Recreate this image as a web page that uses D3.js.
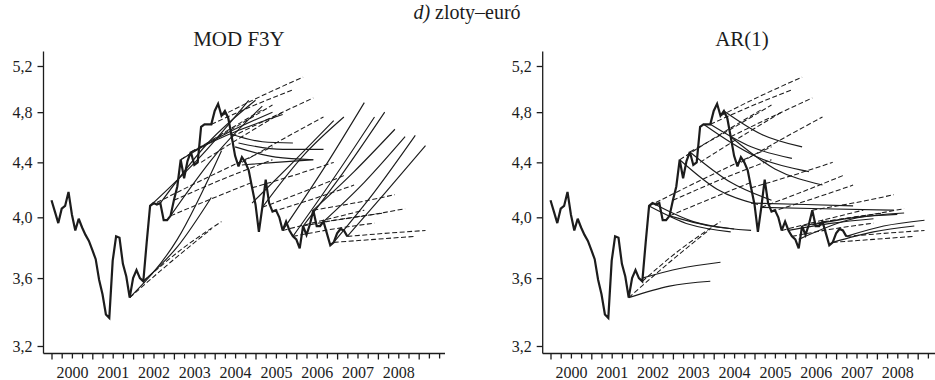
<!DOCTYPE html>
<html>
<head>
<meta charset="utf-8">
<script src="https://cdn.jsdelivr.net/npm/d3@7"></script>
<style>
  html, body { margin: 0; padding: 0; background: #fff; }
  svg { display: block; }
  svg text { font-family: 'Liberation Serif', 'Times New Roman', serif !important; }
</style>
</head>
<body>
<svg id="chart" width="935" height="380"></svg>
<script>
// Monthly zloty–euro rate, Jan 2000 onward (index = months since Jan 2000)
const rate = [
  4.12, 4.04, 3.96, 4.06, 4.08, 4.18, 4.02, 3.91, 3.99, 3.93, 3.88, 3.84,
  3.78, 3.72, 3.59, 3.50, 3.38, 3.36, 3.71, 3.87, 3.86, 3.69, 3.61, 3.48,
  3.60, 3.65, 3.60, 3.58, 3.83, 4.08, 4.10, 4.09, 4.10, 3.98, 3.98, 4.01,
  4.12, 4.22, 4.42, 4.28, 4.41, 4.48, 4.38, 4.40, 4.68, 4.70, 4.70, 4.70,
  4.81, 4.87, 4.77, 4.81, 4.75, 4.60, 4.45, 4.37, 4.44, 4.40, 4.34, 4.21,
  4.09, 3.90, 4.07, 4.27, 4.10, 4.04, 4.05, 4.00, 3.91, 3.97, 3.91, 3.87,
  3.85, 3.79, 3.94, 3.88, 3.95, 4.05, 3.94, 3.94, 3.97, 3.89, 3.81, 3.83,
  3.89, 3.92, 3.91, 3.87
];

// Forward-implied paths (dashed), [month index, rate]
const forwardPaths = [
  [[23, 3.48], [35, 3.70], [47, 3.92]],
  [[27, 3.58], [38, 3.78], [50, 3.97]],
  [[29, 4.08], [47, 4.30], [65, 4.52]],
  [[36, 4.12], [50, 4.27], [65, 4.42]],
  [[35, 4.01], [47, 4.13], [59, 4.25]],
  [[38, 4.42], [50, 4.62], [62, 4.82]],
  [[41, 4.48], [53, 4.66], [65, 4.86]],
  [[44, 4.40], [56, 4.60], [68, 4.80]],
  [[47, 4.70], [59, 4.85], [71, 4.99]],
  [[50, 4.77], [62, 4.94], [74, 5.10]],
  [[53, 4.60], [65, 4.76], [77, 4.92]],
  [[56, 4.40], [68, 4.58], [80, 4.76]],
  [[59, 4.21], [71, 4.30], [83, 4.40]],
  [[62, 4.07], [74, 4.18], [86, 4.30]],
  [[65, 4.04], [77, 4.13], [89, 4.23]],
  [[68, 3.91], [80, 3.98], [92, 4.05]],
  [[71, 3.87], [83, 3.92], [95, 3.96]],
  [[74, 3.94], [86, 3.99], [98, 4.03]],
  [[77, 4.05], [89, 4.10], [101, 4.16]],
  [[80, 3.97], [92, 4.01], [104, 4.06]],
  [[83, 3.83], [95, 3.85], [107, 3.87]],
  [[87, 3.87], [98, 3.89], [110, 3.91]]
];

// MOD F3Y forecast paths (solid, left panel)
const modPaths = [
  [[23, 3.48], [37, 3.85], [50, 4.49]],
  [[27, 3.58], [37, 3.80], [47, 4.14]],
  [[29, 4.08], [44, 4.45], [58, 4.90]],
  [[32, 4.10], [46, 4.55], [60, 4.90]],
  [[35, 4.01], [48, 4.45], [62, 4.85]],
  [[38, 4.42], [51, 4.62], [65, 4.80]],
  [[41, 4.48], [54, 4.64], [68, 4.78]],
  [[53, 4.62], [62, 4.56], [71, 4.55]],
  [[54, 4.52], [66, 4.44], [77, 4.42]],
  [[56, 4.38], [66, 4.40], [77, 4.42]],
  [[55, 4.55], [68, 4.50], [80, 4.50]],
  [[59, 4.10], [71, 4.40], [83, 4.73]],
  [[62, 4.07], [74, 4.45], [86, 4.76]],
  [[68, 3.91], [80, 4.35], [92, 4.88]],
  [[71, 3.87], [83, 4.28], [95, 4.76]],
  [[74, 3.94], [86, 4.33], [98, 4.80]],
  [[77, 4.05], [89, 4.33], [101, 4.66]],
  [[80, 3.97], [92, 4.25], [104, 4.60]],
  [[83, 3.83], [95, 4.18], [107, 4.61]],
  [[87, 3.87], [98, 4.17], [110, 4.53]]
];

// AR(1) forecast paths (solid, right panel)
const arPaths = [
  [[23, 3.48], [35, 3.55], [47, 3.58]],
  [[27, 3.60], [38, 3.66], [50, 3.70]],
  [[29, 4.08], [41, 3.95], [53, 3.90]],
  [[30, 4.10], [42, 3.97], [54, 3.92]],
  [[35, 4.01], [47, 3.94], [59, 3.91]],
  [[38, 4.42], [49, 4.20], [61, 4.09]],
  [[41, 4.48], [53, 4.25], [65, 4.12]],
  [[45, 4.70], [60, 4.45], [76, 4.33]],
  [[47, 4.70], [59, 4.52], [71, 4.43]],
  [[51, 4.81], [62, 4.62], [74, 4.52]],
  [[53, 4.60], [66, 4.35], [80, 4.23]],
  [[59, 4.10], [75, 4.09], [89, 4.08]],
  [[62, 4.07], [80, 4.06], [101, 4.05]],
  [[70, 3.91], [83, 3.96], [95, 3.99]],
  [[73, 3.85], [89, 3.99], [104, 4.03]],
  [[77, 3.95], [90, 4.00], [102, 4.02]],
  [[83, 3.83], [95, 3.90], [107, 3.94]],
  [[87, 3.87], [98, 3.94], [110, 3.98]]
];

const yTicks = [3.2, 3.6, 4.0, 4.4, 4.8, 5.2];
const yearLabels = [2000, 2001, 2002, 2003, 2004, 2005, 2006, 2007, 2008];
const panels = [
  { title: "MOD F3Y", titleX: 239, axisX: 43.5, firstTick: 51.5, right: 445, solid: modPaths },
  { title: "AR(1)", titleX: 742, axisX: 542.7, firstTick: 550.5, right: 935, solid: arPaths }
];

const svg = d3.select("#chart");
const ink = "#1c1c1c";
const serif = "'Liberation Serif', 'Times New Roman', serif";
const yearWidth = 40.8;

const title = svg.append("text")
  .attr("x", 467).attr("y", 19)
  .attr("text-anchor", "middle")
  .style("font-family", serif)
  .attr("font-size", 20).attr("fill", ink);
title.append("tspan").attr("font-style", "italic").text("d)");
title.append("tspan").text(" zloty–euró");

const y = d3.scaleLog().domain([3.2, 5.2]).range([346, 66]);

panels.forEach(p => {
  const g = svg.append("g");
  const x = d3.scaleLinear()
    .domain([2000, 2001])
    .range([p.firstTick, p.firstTick + yearWidth]);
  const tOf = m => 2000 + m / 12;
  const xMax = x.invert(p.right);

  g.append("text")
    .attr("x", p.titleX).attr("y", 46)
    .attr("text-anchor", "middle")
    .style("font-family", serif)
    .attr("font-size", 21).attr("fill", ink)
    .text(p.title);

  // y axis
  const yAxis = d3.axisLeft(y)
    .tickValues(yTicks)
    .tickSize(6)
    .tickPadding(5)
    .tickFormat(d => d3.format(".1f")(d).replace(".", ","));
  const ya = g.append("g").attr("transform", `translate(${p.axisX},0)`).call(yAxis);
  ya.select(".domain").attr("d", `M0,51.5V353.5`);

  // x axis: quarterly ticks, year labels centred mid-year
  const quarters = d3.range(2000, xMax, 0.25);
  const xAxis = d3.axisBottom(x)
    .tickValues(quarters)
    .tickSize(5)
    .tickFormat("");
  const xa = g.append("g").attr("transform", "translate(0,353.5)").call(xAxis);
  xa.select(".domain").attr("d", `M${p.axisX},0H${p.right}`);
  xa.selectAll(".tick line").attr("y2", d => Number.isInteger(d) ? 6 : 5);

  const xl = g.append("g").attr("transform", "translate(0,353.5)")
    .call(d3.axisBottom(x).tickValues(yearLabels.map(d => d + 0.5)).tickSize(0).tickPadding(13)
      .tickFormat(d => String(Math.floor(d))));
  xl.select(".domain").remove();

  [ya, xa, xl].forEach(a => {
    a.attr("font-family", null);
    a.selectAll("path, line").attr("stroke", ink).attr("stroke-width", 1.3);
    a.selectAll("text").attr("font-size", 16).attr("fill", ink)
      .style("font-family", serif);
  });

  const path = d3.line()
    .x(d => x(tOf(d[0])))
    .y(d => y(d[1]))
    .curve(d3.curveMonotoneX);

  g.append("g").selectAll("path").data(forwardPaths).join("path")
    .attr("d", path).attr("fill", "none")
    .attr("stroke", ink).attr("stroke-width", 1.05)
    .attr("stroke-dasharray", "5,2.5");

  g.append("g").selectAll("path").data(p.solid).join("path")
    .attr("d", path).attr("fill", "none")
    .attr("stroke", ink).attr("stroke-width", 1.15);

  const main = d3.line()
    .x((d, i) => x(tOf(i)))
    .y(d => y(d));
  g.append("path").datum(rate)
    .attr("d", main).attr("fill", "none")
    .attr("stroke", ink).attr("stroke-width", 2.2)
    .attr("stroke-linejoin", "miter").attr("stroke-miterlimit", 3);
});
</script>
</body>
</html>
